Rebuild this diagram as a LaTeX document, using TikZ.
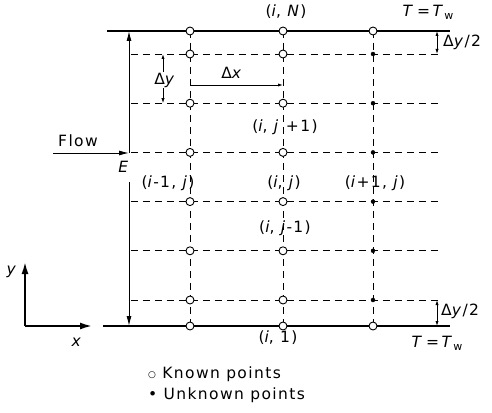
\documentclass[tikz,border=0pt]{standalone}
\usepackage{fontspec}
\setmainfont{DejaVu Sans}[ItalicFont={DejaVu Sans Oblique},LetterSpace=9]
\usetikzlibrary{arrows.meta}
\tikzset{
  gridline/.style={line width=0.8pt, dash pattern=on 7pt off 5pt},
  wall/.style={line width=2pt},
  known/.style={circle, draw, fill=white, line width=0.9pt, inner sep=0pt, minimum size=8pt},
  unknown/.style={circle, draw=black, fill=black, inner sep=0pt, minimum size=4pt},
  bigarrow/.style={line width=1pt, -{Latex[length=10pt,width=5pt]}},
  smallarrow/.style={line width=0.8pt, -{Latex[length=5pt,width=3.2pt]}},
  axisarrow/.style={line width=1.8pt, -{Latex[length=12pt,width=7pt]}},
  lab/.style={inner sep=1pt}
}
\begin{document}
\begin{tikzpicture}[x=1pt,y=-1pt,font=\fontsize{15.5pt}{18pt}\selectfont]
\useasboundingbox (0,0) rectangle (492,412);
% grid point coordinates
\foreach \r/\y in {0/31,1/54,2/103.2,3/152.4,4/201.6,5/250.8,6/300,7/326}{
  \foreach \c/\x in {A/190,B/283,C/373}{
    \coordinate (p\c\r) at (\x,\y);
  }
  \coordinate (L\r) at (131,\y);
  \coordinate (R\r) at (442,\y);
}
% horizontal dashed rows
\foreach \r in {1,...,6}{ \draw[gridline] (L\r) -- (R\r); }
% vertical dashed columns
\foreach \c in {A,B,C}{ \draw[gridline] (p\c0) -- (p\c7); }
% walls
\coordinate (NL) at (107,31); \coordinate (NR) at (450,31);
\coordinate (SL) at (103,326); \coordinate (SR) at (450,326);
\draw[wall] (NL) -- (NR);
\draw[wall] (SL) -- (SR);
% points
\foreach \r in {0,...,7}{
  \node[known] (kA\r) at (pA\r) {};
  \node[known] (kB\r) at (pB\r) {};
}
\node[known] (kC0) at (pC0) {};
\node[known] (kC7) at (pC7) {};
\foreach \r in {1,...,6}{ \node[unknown] (uC\r) at (pC\r) {}; }
% E dimension and flow
\node[lab] (E) at (124,167) {\textit{E}};
\coordinate (Eu) at (129,153); \coordinate (Ed) at (129,182);
\coordinate (Et) at (129,31); \coordinate (Eb) at (129,326);
\draw[bigarrow] (Eu) -- (Et);
\draw[bigarrow] (Ed) -- (Eb);
\coordinate (F0) at (53,153);
\draw[bigarrow] (F0) -- (Eu);
\node[lab] (flow) at (78,141) {Flow};
% Delta y
\node[lab] (dy) at (165,80) {Δ\textit{y}};
\coordinate (dyT) at (163,54); \coordinate (dyB) at (163,103.2);
\draw[smallarrow] (dy.north -| dyT) -- (dyT);
\draw[smallarrow] (dy.south -| dyB) -- (dyB);
% Delta x
\coordinate (dxL) at (190,85); \coordinate (dxR) at (283,85);
\draw[smallarrow] (dxL) -- (dxR);
\node[lab] (dx) at (232,73) {Δ\textit{x}};
% Delta y / 2 top and bottom
\coordinate (h1) at (437,31); \coordinate (h2) at (437,54);
\coordinate (hm) at (437,42.5);
\draw[smallarrow] (hm) -- (h1);
\draw[smallarrow] (hm) -- (h2);
\node[lab,anchor=west] (dyh1) at (442,42) {Δ\textit{y}/2};
\coordinate (g1) at (437,300); \coordinate (g2) at (437,326);
\coordinate (gm) at (437,313);
\draw[smallarrow] (gm) -- (g1);
\draw[smallarrow] (gm) -- (g2);
\node[lab,anchor=west] (dyh2) at (440,311) {Δ\textit{y}/2};
% wall labels
\node[lab] (TwTop) at (428,12) {\textit{T}\,=\,\textit{T}\raisebox{-0.35ex}{\fontsize{11pt}{12pt}\selectfont w}};
\node[lab] (TwBot) at (437,343) {\textit{T}\,=\,\textit{T}\raisebox{-0.35ex}{\fontsize{11pt}{12pt}\selectfont w}};
% point labels
\node[lab] (lN) at (286,12) {(\textit{i}, \textit{N})};
\node[lab] (ljp) at (285,127) {(\textit{i}, \textit{j} +1)};
\node[lab] (lim) at (168,183) {(\textit{i}-1, \textit{j})};
\node[lab] (lij) at (284,183) {(\textit{i}, \textit{j})};
\node[lab] (lip) at (375,183) {(\textit{i}+1, \textit{j})};
\node[lab] (ljm) at (285,228) {(\textit{i}, \textit{j}-1)};
\node[lab] (l1) at (278,338) {(\textit{i}, 1)};
% axes
\coordinate (O) at (25,326); \coordinate (Ya) at (25,262); \coordinate (Xa) at (92,326);
\draw[axisarrow] (O) -- (Ya);
\draw[axisarrow] (O) -- (Xa);
\node[lab] (ylab) at (12,272) {\textit{y}};
\node[lab] (xlab) at (77,342) {\textit{x}};
% legend
\node[lab,anchor=west] (leg1) at (147,374) {\raisebox{0.15ex}{\fontsize{9pt}{10pt}\selectfont ○} Known points};
\node[lab,anchor=west] (leg2) at (147,395) {• Unknown points};
\end{tikzpicture}
\end{document}
